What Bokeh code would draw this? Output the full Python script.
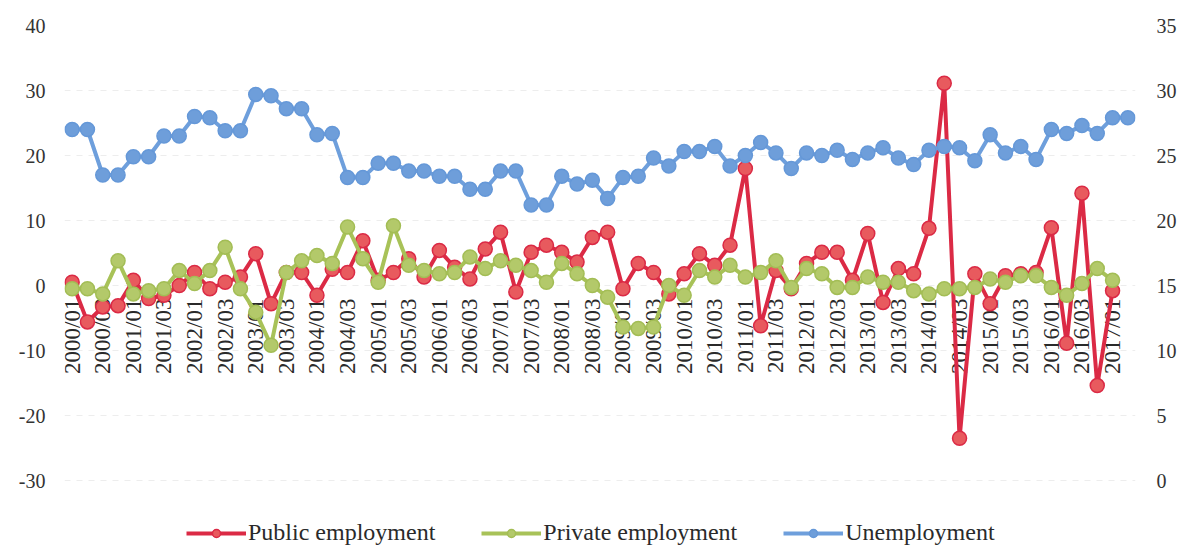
from bokeh.plotting import figure
from bokeh.models import (FactorRange, Range1d, LinearAxis, Legend, LegendItem,
                          ColumnDataSource, FixedTicker)
from bokeh.core.properties import value
from bokeh.embed import file_html
from bokeh.resources import INLINE
import math

years = list(range(2000, 2018))
quarters = [f"{y}/{q:02d}" for y in years for q in (1, 2, 3, 4)][:70]
tick_labels = [c for c in quarters if c.endswith("/01") or c.endswith("/03")][:35]

public = [0.5, -5.6, -3.3, -3.1, 0.8, -2.0, -1.5, 0.0, 2.0, -0.5,
          0.5, 1.3, 4.9, -2.8, 2.0, 2.0, -1.5, 2.5, 2.0, 6.9,
          0.8, 2.0, 4.1, 1.3, 5.4, 2.8, 1.0, 5.6, 8.2, -1.0,
          5.1, 6.2, 5.1, 3.6, 7.4, 8.2, -0.5, 3.4, 2.0, -1.3,
          1.8, 4.9, 3.1, 6.2, 18.0, -6.2, 2.3, -0.5, 3.4, 5.1,
          5.1, 0.8, 8.0, -2.6, 2.6, 1.8, 8.8, 31.1, -23.5, 1.8,
          -2.8, 1.5, 1.8, 2.0, 8.9, -8.9, 14.2, -15.4, -0.8]

private = [-0.5, -0.5, -1.3, 3.8, -1.3, -0.8, -0.5, 2.3, 0.3, 2.3,
           5.9, -0.5, -4.1, -9.2, 2.0, 3.8, 4.6, 3.4, 9.0, 4.1,
           0.5, 9.2, 3.1, 2.3, 1.8, 2.0, 4.4, 2.6, 3.8, 3.1,
           2.3, 0.5, 3.4, 1.8, 0.0, -1.8, -6.4, -6.6, -6.4, 0.0,
           -1.5, 2.3, 1.3, 3.1, 1.3, 2.0, 3.8, -0.3, 2.6, 1.8,
           -0.3, -0.3, 1.3, 0.5, 0.5, -0.8, -1.3, -0.5, -0.5, -0.3,
           1.0, 0.5, 1.5, 1.5, -0.3, -1.5, 0.3, 2.6, 0.8]

unemployment = [27.0, 27.0, 23.5, 23.5, 24.9, 24.9, 26.5, 26.5, 28.0, 27.9,
                26.9, 26.9, 29.7, 29.6, 28.6, 28.6, 26.6, 26.7, 23.3, 23.3,
                24.4, 24.4, 23.8, 23.8, 23.4, 23.4, 22.4, 22.4, 23.8, 23.8,
                21.2, 21.2, 23.4, 22.8, 23.1, 21.7, 23.3, 23.4, 24.8, 24.2,
                25.3, 25.3, 25.7, 24.2, 25.0, 26.0, 25.2, 24.0, 25.2, 25.0,
                25.4, 24.7, 25.2, 25.6, 24.8, 24.3, 25.4, 25.7, 25.6, 24.6,
                26.6, 25.2, 25.7, 24.7, 27.0, 26.7, 27.3, 26.7, 27.9, 27.9]

left_ticks = [-30, -20, -10, 0, 10, 20, 30, 40]
right_ticks = [0, 5, 10, 15, 20, 25, 30, 35]

series_names = ["Public employment", "Private employment", "Unemployment"]

FONT = "'Liberation Serif', 'Times New Roman', serif"
TXT = "#333333"

# plot area: left axis -30..40 spans 455 px; the frame is extended downward
# to hold the legend, so the visible tick range stays -30..40
PX_PER_UNIT = 455 / 70.0
frame_h = 546 - 25
left_low = 40 - frame_h / PX_PER_UNIT
right_low = (left_low + 30) / 2.0

p = figure(width=1179, height=546,
           x_range=FactorRange(factors=quarters, range_padding=0),
           y_range=Range1d(left_low, 40),
           output_backend="svg", toolbar_location=None,
           x_axis_location=None,
           min_border_left=64, min_border_right=44,
           min_border_top=25, min_border_bottom=0)
p.outline_line_color = None
p.background_fill_color = "white"
p.border_fill_color = "white"
p.xgrid.visible = False
p.ygrid.ticker = FixedTicker(ticks=left_ticks)
p.ygrid.grid_line_color = "#ededed"
p.ygrid.grid_line_dash = "6 6"
p.ygrid.grid_line_width = 1

ax = p.yaxis[0]
ax.ticker = FixedTicker(ticks=left_ticks)
ax.major_label_overrides = {t: str(t) for t in left_ticks}
ax.axis_line_color = None
ax.major_tick_line_color = None
ax.minor_tick_line_color = None
ax.major_tick_out = 0
ax.major_tick_in = 0
ax.major_label_text_font = FONT
ax.major_label_text_font_size = "20px"
ax.major_label_text_color = TXT
ax.major_label_standoff = 19

p.extra_y_ranges = {"r": Range1d(right_low, 35)}
rax = LinearAxis(y_range_name="r", ticker=FixedTicker(ticks=right_ticks))
rax.major_label_overrides = {t: str(t) for t in right_ticks}
rax.axis_line_color = None
rax.major_tick_line_color = None
rax.minor_tick_line_color = None
rax.major_tick_out = 0
rax.major_tick_in = 0
rax.major_label_text_font = FONT
rax.major_label_text_font_size = "20px"
rax.major_label_text_color = TXT
rax.major_label_standoff = 21
p.add_layout(rax, "right")

# category labels placed along the zero line
lab_src = ColumnDataSource(dict(x=tick_labels, y=[0] * len(tick_labels), t=tick_labels))
p.text(x="x", y="y", text="t", source=lab_src, angle=math.pi / 2,
       text_align="right", text_baseline="middle", y_offset=13,
       text_font=value(FONT), text_font_size="23px", text_color="#2a2a2a")

pub_src = ColumnDataSource(dict(x=quarters[:len(public)], y=public))
pri_src = ColumnDataSource(dict(x=quarters[:len(private)], y=private))
une_src = ColumnDataSource(dict(x=quarters[:len(unemployment)], y=unemployment))

r1l = p.line("x", "y", source=pub_src, line_color="#DB2A45", line_width=4)
r1m = p.scatter("x", "y", source=pub_src, size=14, fill_color="#E85A5E",
                line_color="#DB2A45", line_width=1.5)
r2l = p.line("x", "y", source=pri_src, line_color="#A8C258", line_width=4)
r2m = p.scatter("x", "y", source=pri_src, size=14, fill_color="#B3C96A",
                line_color="#A3BD55", line_width=1.5)
r3l = p.line("x", "y", source=une_src, y_range_name="r", line_color="#6E9FDC", line_width=4)
r3m = p.scatter("x", "y", source=une_src, y_range_name="r", size=14, fill_color="#6E9EDA",
                line_color="#6598D8", line_width=1.5)

legend = Legend(items=[LegendItem(label=series_names[0], renderers=[r1l, r1m]),
                       LegendItem(label=series_names[1], renderers=[r2l, r2m]),
                       LegendItem(label=series_names[2], renderers=[r3l, r3m])],
                orientation="horizontal", location=(122, 0),
                glyph_width=60, glyph_height=20, label_standoff=2, spacing=46,
                label_text_font=FONT, label_text_font_size="24px",
                label_text_color="#2a2a2a", border_line_color=None,
                background_fill_alpha=0, margin=0, padding=4)
p.add_layout(legend, "center")

open("out.html", "w").write(file_html(p, INLINE))
